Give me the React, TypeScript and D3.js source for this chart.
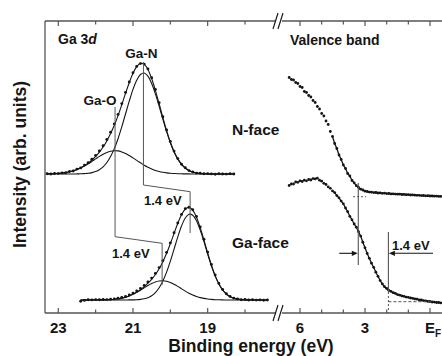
import React from 'react';
import * as d3 from 'd3';

const W = 442;
const H = 356;
const FONT = '"Liberation Sans", Arial, Helvetica, sans-serif';
const INK = '#151515';
const GUIDE = '#555555';

// ---------- Ga 3d core level, N-face (energies 23.3 -> 18.3 eV, step 0.1) ----------
const nFaceCoreStart = 23.3;
const nFaceCoreOffset = 139;
const nFaceCoreData = [
  0.3, 0.0, 0.5, 0.4, 1.1, 1.2, 2.5, 3.0, 4.9, 6.1,
  8.9, 11.3, 14.7, 18.6, 23.0, 28.3, 34.5, 41.8, 50.1, 59.6,
  70.4, 81.5, 92.0, 101.2, 107.6, 110.4, 109.9, 105.1, 96.2, 84.6,
  71.2, 57.3, 44.0, 32.6, 22.9, 15.4, 9.7, 6.2, 3.4, 2.1,
  0.9, 0.7, 0.2, 0.4, 0.1, -0.2, 0.2, 0.0, -0.1, 0.2, 0.0,
];
const nFaceCoreGaN = [
  0, 0, 0, 0, 0, 0, 0, 0,
  0.1, 0.2, 0.4, 0.7, 1.4, 2.5, 4.3, 7.2, 11.5, 17.6,
  25.4, 35.3, 47.2, 60.0, 72.8, 84.6, 93.8, 99.5, 101.0, 97.8,
  90.5, 80.1, 67.8, 54.8, 42.3, 31.3, 22.0, 14.9, 9.6, 5.9,
  3.5, 1.9, 1.1, 0.5, 0.3, 0.1,
  0, 0, 0, 0, 0, 0, 0,
];
const nFaceCoreGaO = [
  0.1, 0.2, 0.4, 0.6, 0.9, 1.4, 2.2, 3.2, 4.4, 6.0,
  8.0, 10.2, 12.6, 15.1, 17.6, 19.8, 21.6, 22.8, 23.3, 23.1,
  22.1, 20.6, 18.5, 16.1, 13.6, 11.2, 8.8, 6.8, 5.0, 3.6,
  2.5, 1.7, 1.1, 0.7, 0.5, 0.3, 0.2, 0.1, 0.1,
  0, 0, 0, 0, 0, 0, 0, 0, 0, 0, 0, 0,
];

// ---------- Ga 3d core level, Ga-face (energies 22.4 -> 17.4 eV, step 0.1) ----------
const gaFaceCoreStart = 22.4;
const gaFaceCoreOffset = 13;
const gaFaceCoreData = [
  -1.2, -0.4, 0.3, 0.1, 0.4, 0.2, 0.5, 0.4, 0.9, 1.1,
  1.8, 2.5, 3.6, 5.0, 6.9, 9.1, 11.6, 14.5, 18.0, 21.9,
  26.6, 32.4, 39.3, 47.6, 57.1, 67.2, 77.0, 85.6, 91.2, 92.8,
  90.3, 83.5, 73.1, 60.7, 47.9, 35.5, 25.0, 16.6, 10.5, 6.2,
  3.6, 1.9, 1.1, 0.3, 0.5, 0.0, 0.2, -0.1, 0.1, -0.2, 0.0,
];
const gaFaceCoreGaN = [
  0, 0, 0, 0, 0, 0, 0, 0, 0, 0, 0, 0, 0,
  0.1, 0.1, 0.3, 0.6, 1.2, 2.3, 4.2, 7.4, 12.2, 19.0,
  27.9, 38.8, 50.9, 63.1, 74.0, 82.0, 85.8, 84.8, 79.2, 69.9,
  58.4, 46.0, 34.2, 24.1, 16.0, 10.0, 6.0, 3.3, 1.8, 0.9,
  0.4, 0.2, 0.1,
  0, 0, 0, 0, 0,
];
const gaFaceCoreGaO = [
  0, 0, 0, 0, 0,
  0.1, 0.1, 0.2, 0.4, 0.7, 1.2, 1.9, 2.8, 4.1, 5.7,
  7.7, 9.8, 12.2, 14.5, 16.5, 18.1, 19.0, 19.3, 18.8, 17.5,
  15.7, 13.6, 11.2, 8.9, 6.8, 5.0, 3.6, 2.4, 1.6, 1.0,
  0.6, 0.3, 0.2, 0.1,
  0, 0, 0, 0, 0, 0, 0, 0, 0, 0, 0, 0,
];

// ---------- Valence band (energies 6.5 -> -0.5 eV, step 0.1) ----------
const vbStart = 6.5;
const nFaceVB = [
  235.5, 233.5, 233, 230.5, 229.5, 226.5, 225.5, 221.5, 220.5, 217.5,
  216, 212.5, 210.5, 206.5, 204, 199.5, 197, 192, 188.5, 181.5,
  176.5, 169.5, 164.5, 158, 153.5, 148, 144.5, 139.5, 137, 132.5,
  130.2, 127.3, 125.7, 123.8, 123, 121.8, 121.5, 120.9, 120.8, 120.4,
  120.5, 120, 120.1, 119.7, 119.8, 119.4, 119.5, 119.1, 119.2, 118.9,
  118.8, 118.8, 118.5, 118.6, 118.3, 118.3, 118, 118.1, 117.8, 117.7,
  117.7, 117.4, 117.5, 117.2, 117.3, 117, 117, 116.8, 116.9, 116.6, 116.6,
];
const gaFaceVB = [
  127.5, 129, 129, 131, 130.7, 132.2, 131.5, 132.8, 132.2, 133.5,
  133, 134.4, 134.1, 134.8, 132.8, 131.8, 129.7, 128.5, 126.2, 124.7,
  122.1, 120.4, 117.4, 115.2, 111.9, 109.2, 105, 101.3, 96.7, 93.2,
  89, 85.8, 81.3, 76.9, 70.8, 65.2, 59.5, 54.7, 49.8, 45.7,
  40.8, 36.7, 32.4, 29.1, 26.3, 24.5, 22.7, 21.6, 20.3, 19.6,
  18.4, 17.9, 17.1, 16.7, 15.9, 15.7, 15, 14.7, 14.1, 13.8,
  13.2, 13, 12.3, 12.1, 11.6, 11.5, 11, 10.9, 10.5, 10.5, 10.1,
];

// ---------- axes ----------
const coreTicks = [23, 22, 21, 20, 19, 18];
const coreTickLabels = ['23', '', '21', '', '19', ''];
const vbTicks = [6, 5, 4, 3, 2, 1, 0];
const vbTickLabels = ['6', '', '', '3', '', '', 'EF'];

// ---------- annotation values (eV, intensity) ----------
const gaNGuide: [number, number][] = [[20.72, 251], [20.72, 128], [19.47, 121.3], [19.47, 80]];
const gaOGuide: [number, number][] = [[21.48, 206], [21.48, 76.3], [20.22, 69.7], [20.22, 28]];
const vbEdgeN = 3.31;
const vbEdgeGa = 1.92;

const grid = (start: number, n: number) =>
  Array.from({ length: n }, (_, i) => Math.round((start - 0.1 * i) * 100) / 100);

export default function App() {
  const top = 21;
  const bottom = 313;
  const left = 45;
  const breakX = 279;
  const right = 443;

  const xL = d3.scaleLinear().domain([23.356, 17.09]).range([left, breakX]);
  const xR = d3.scaleLinear().domain([6.97, -0.6]).range([breakX, right]);
  const y = d3.scaleLinear().domain([0, 292]).range([bottom, top]);

  const lineL = d3
    .line<[number, number]>()
    .x((d) => xL(d[0]))
    .y((d) => y(d[1]))
    .curve(d3.curveCatmullRom);
  const polyL = d3.line<[number, number]>().x((d) => xL(d[0])).y((d) => y(d[1]));
  const lineR = d3.line<[number, number]>().x((d) => xR(d[0])).y((d) => y(d[1]));

  const nE = grid(nFaceCoreStart, nFaceCoreData.length);
  const gE = grid(gaFaceCoreStart, gaFaceCoreData.length);
  const vE = grid(vbStart, nFaceVB.length);

  const core = [
    { e: nE, data: nFaceCoreData, gaN: nFaceCoreGaN, gaO: nFaceCoreGaO, off: nFaceCoreOffset },
    { e: gE, data: gaFaceCoreData, gaN: gaFaceCoreGaN, gaO: gaFaceCoreGaO, off: gaFaceCoreOffset },
  ];

  const txt = { fontFamily: FONT, fill: INK, fontWeight: 700 } as const;

  const ticksBottom = (
    <g>
      {coreTicks.map((t, i) => (
        <line key={'lb' + t} x1={xL(t)} x2={xL(t)} y1={bottom} y2={bottom - (coreTickLabels[i] ? 5 : 3.5)} stroke={GUIDE} strokeWidth={1.2} />
      ))}
      {coreTicks.map((t, i) => (
        <line key={'lt' + t} x1={xL(t)} x2={xL(t)} y1={top} y2={top + (coreTickLabels[i] ? 5 : 3.5)} stroke={GUIDE} strokeWidth={1.2} />
      ))}
      {vbTicks.map((t, i) => (
        <line key={'rb' + t} x1={xR(t)} x2={xR(t)} y1={bottom} y2={bottom - (vbTickLabels[i] ? 5 : 3.5)} stroke={GUIDE} strokeWidth={1.2} />
      ))}
      {vbTicks.map((t, i) => (
        <line key={'rt' + t} x1={xR(t)} x2={xR(t)} y1={top} y2={top + (vbTickLabels[i] ? 5 : 3.5)} stroke={GUIDE} strokeWidth={1.2} />
      ))}
    </g>
  );

  const breakMark = (yy: number, k: string) => (
    <g key={k}>
      <rect x={breakX - 3} y={yy - 2} width={6} height={4} fill="#fff" />
      <line x1={breakX - 6} y1={yy + 8} x2={breakX - 1} y2={yy - 8} stroke={INK} strokeWidth={1.1} />
      <line x1={breakX - 1} y1={yy + 8} x2={breakX + 4} y2={yy - 8} stroke={INK} strokeWidth={1.1} />
    </g>
  );

  const arrowHead = (x: number, yy: number, dir: number) =>
    `M${x},${yy} L${x - dir * 6},${yy - 2.6} L${x - dir * 6},${yy + 2.6} Z`;

  const arrowY = y(59.7);

  return (
    <svg
      width={W}
      height={H}
      viewBox={`0 0 ${W} ${H}`}
      style={{ position: 'absolute', left: 0, top: 0, background: '#fff' }}
    >
      <rect x={0} y={0} width={W} height={H} fill="#fff" />

      {/* frame */}
      <line x1={left} x2={left} y1={top} y2={bottom} stroke={GUIDE} strokeWidth={1.3} />
      <line x1={left} x2={right} y1={top} y2={top} stroke={GUIDE} strokeWidth={1.3} />
      <line x1={left} x2={right} y1={bottom} y2={bottom} stroke={GUIDE} strokeWidth={1.3} />
      {ticksBottom}
      {breakMark(top, 'bt')}
      {breakMark(bottom, 'bb')}

      {/* Ga 3d fits and data */}
      {core.map((s, k) => {
        const ptsN = s.e.map((e, i) => [e, s.off + s.gaN[i]] as [number, number]);
        const ptsO = s.e.map((e, i) => [e, s.off + s.gaO[i]] as [number, number]);
        const ptsSum = s.e.map((e, i) => [e, s.off + s.gaN[i] + s.gaO[i]] as [number, number]);
        const ptsD = s.e.map((e, i) => [e, s.off + s.data[i]] as [number, number]);
        return (
          <g key={'core' + k}>
            <path d={lineL(ptsO) || ''} fill="none" stroke={INK} strokeWidth={1.1} />
            <path d={lineL(ptsN) || ''} fill="none" stroke={INK} strokeWidth={1.1} />
            <path d={lineL(ptsSum) || ''} fill="none" stroke={INK} strokeWidth={1.1} />
            {ptsD.map((p, i) => (
              <circle key={i} cx={xL(p[0])} cy={y(p[1])} r={1.45} fill={INK} />
            ))}
          </g>
        );
      })}

      {/* guide lines in Ga 3d panel */}
      <path d={polyL(gaNGuide) || ''} fill="none" stroke={GUIDE} strokeWidth={1} />
      <path d={polyL(gaOGuide) || ''} fill="none" stroke={GUIDE} strokeWidth={1} />

      {/* valence band */}
      {[nFaceVB, gaFaceVB].map((arr, k) => {
        const pts = arr.map((v, i) => [vE[i], v] as [number, number]);
        return (
          <g key={'vb' + k}>
            <path d={lineR(pts.filter((p) => p[0] < 4.6)) || ''} fill="none" stroke={INK} strokeWidth={1.3} />
            {pts.map((p, i) => (
              <circle key={i} cx={xR(p[0])} cy={y(p[1])} r={1.4} fill={INK} />
            ))}
          </g>
        );
      })}

      {/* VB edge guides */}
      <line x1={xR(vbEdgeN)} x2={xR(vbEdgeN)} y1={y(130)} y2={y(48)} stroke={GUIDE} strokeWidth={1.1} />
      <line x1={xR(3.55)} x2={xR(2.95)} y1={y(116.3)} y2={y(116.3)} stroke={GUIDE} strokeWidth={1} strokeDasharray="2 2" />
      <line x1={xR(vbEdgeGa)} x2={xR(vbEdgeGa)} y1={y(81)} y2={y(21)} stroke={GUIDE} strokeWidth={1.1} />
      <line x1={xR(vbEdgeGa)} x2={xR(vbEdgeGa)} y1={y(21)} y2={y(0)} stroke={GUIDE} strokeWidth={1} strokeDasharray="2 2" />
      <line x1={xR(vbEdgeGa)} x2={xR(-0.14)} y1={y(11.3)} y2={y(11.3)} stroke={GUIDE} strokeWidth={1} strokeDasharray="3 2" />

      {/* arrows */}
      <line x1={xR(4.19)} x2={xR(vbEdgeN) - 5} y1={arrowY} y2={arrowY} stroke={INK} strokeWidth={1.1} />
      <path d={arrowHead(xR(vbEdgeN) - 0.5, arrowY, 1)} fill={INK} />
      <line x1={xR(-0.14)} x2={xR(vbEdgeGa) + 5} y1={arrowY} y2={arrowY} stroke={INK} strokeWidth={1.1} />
      <path d={arrowHead(xR(vbEdgeGa) + 0.5, arrowY, -1)} fill={INK} />

      {/* tick labels */}
      {coreTicks.map((t, i) =>
        coreTickLabels[i] ? (
          <text key={'cl' + t} x={xL(t)} y={333} textAnchor="middle" fontSize={15} style={txt}>
            {coreTickLabels[i]}
          </text>
        ) : null
      )}
      {vbTicks.map((t, i) =>
        vbTickLabels[i] === 'EF' ? (
          <text key={'vl' + t} x={xR(t) - 5} y={333} fontSize={15} style={txt}>
            E<tspan fontSize={10} dy={4}>F</tspan>
          </text>
        ) : vbTickLabels[i] ? (
          <text key={'vl' + t} x={xR(t)} y={333} textAnchor="middle" fontSize={15} style={txt}>
            {vbTickLabels[i]}
          </text>
        ) : null
      )}

      {/* axis titles */}
      <text x={251} y={352} textAnchor="middle" fontSize={17.5} style={txt}>
        Binding energy (eV)
      </text>
      <text transform="translate(26,164.5) rotate(-90)" textAnchor="middle" fontSize={17.5} style={txt}>
        Intensity (arb. units)
      </text>

      {/* in-plot labels */}
      <text x={58} y={44} fontSize={14} style={txt}>
        Ga 3<tspan fontStyle="italic">d</tspan>
      </text>
      <text x={141.5} y={58} textAnchor="middle" fontSize={13.5} style={txt}>Ga-N</text>
      <text x={100} y={105} textAnchor="middle" fontSize={13.5} style={txt}>Ga-O</text>
      <text x={144} y={205} fontSize={13} style={txt}>1.4 eV</text>
      <text x={112} y={258} fontSize={13} style={txt}>1.4 eV</text>
      <text x={392} y={250} fontSize={13} style={txt}>1.4 eV</text>
      <text x={232} y={135} fontSize={15.5} style={txt}>N-face</text>
      <text x={232} y={248} fontSize={15.5} style={txt}>Ga-face</text>
      <text x={290} y={45} fontSize={14} style={txt}>Valence band</text>
    </svg>
  );
}
